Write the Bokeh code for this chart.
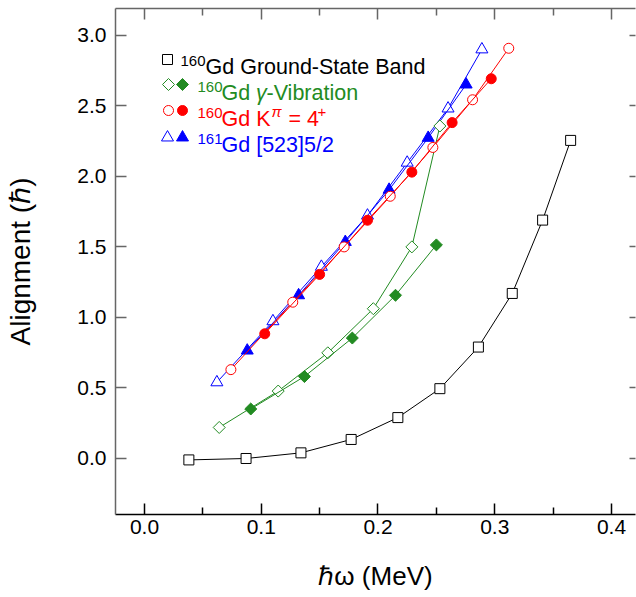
import numpy as np
from bokeh.plotting import figure
from bokeh.models import Range1d, FixedTicker, LinearAxis, Label, NumeralTickFormatter
from bokeh.embed import file_html
from bokeh.resources import INLINE

# ---------------- data (hbar*omega in MeV, alignment in hbar) ----------------
gsb_hw = [0.038, 0.087, 0.134, 0.177, 0.217, 0.253, 0.286, 0.315, 0.341, 0.365]
gsb_ix = [-0.01, 0.00, 0.04, 0.135, 0.29, 0.495, 0.79, 1.17, 1.69, 2.255]

gam_a_hw = [0.064, 0.1145, 0.157, 0.196, 0.229, 0.253]
gam_a_ix = [0.22, 0.478, 0.749, 1.062, 1.50, 2.357]
gam_b_hw = [0.091, 0.137, 0.178, 0.215, 0.250]
gam_b_ix = [0.351, 0.581, 0.854, 1.157, 1.514]

k4_a_hw = [0.074, 0.127, 0.171, 0.2105, 0.247, 0.281, 0.312]
k4_a_ix = [0.630, 1.108, 1.500, 1.859, 2.205, 2.543, 2.908]
k4_b_hw = [0.103, 0.150, 0.191, 0.229, 0.2635, 0.297]
k4_b_ix = [0.884, 1.305, 1.689, 2.030, 2.381, 2.692]

gd161_a_hw = [0.062, 0.110, 0.1515, 0.191, 0.225, 0.260, 0.289]
gd161_a_ix = [0.54, 0.973, 1.359, 1.722, 2.097, 2.481, 2.900]
gd161_b_hw = [0.088, 0.132, 0.172, 0.2095, 0.243, 0.2755]
gd161_b_ix = [0.765, 1.157, 1.535, 1.905, 2.273, 2.651]

x_major = [0.0, 0.1, 0.2, 0.3, 0.4]
x_minor = [0.05, 0.15, 0.25, 0.35]
y_major = [0.0, 0.5, 1.0, 1.5, 2.0, 2.5, 3.0]

# ---------------- styles ----------------
BLACK = "black"
GREEN = "#228B22"
RED = "#ff0000"
BLUE = "#0000ff"
GREY = "#666666"
FONT = "Liberation Sans"

p = figure(width=636, height=597,
           x_range=Range1d(-0.02484, 0.42056), y_range=Range1d(-0.397, 3.19),
           output_backend="svg", toolbar_location=None,
           min_border_left=115, min_border_right=1, min_border_top=8, min_border_bottom=83)
p.xgrid.visible = False
p.ygrid.visible = False
p.outline_line_color = None
p.background_fill_color = "white"
p.border_fill_color = "white"


def base_axis(ax, color):
    ax.axis_line_color = color
    ax.axis_line_width = 1.5
    ax.major_tick_line_color = color
    ax.minor_tick_line_color = color
    ax.major_tick_line_width = 1.5
    ax.minor_tick_line_width = 1.5
    ax.major_tick_out = 0
    ax.minor_tick_out = 0


xa = p.xaxis[0]
ya = p.yaxis[0]
base_axis(xa, "black")
base_axis(ya, GREY)
xa.ticker = FixedTicker(ticks=x_major, minor_ticks=x_minor)
ya.ticker = FixedTicker(ticks=y_major, minor_ticks=[])
for ax in (xa, ya):
    ax.major_tick_in = 11
    ax.minor_tick_in = 7
    ax.formatter = NumeralTickFormatter(format="0.0")
    ax.major_label_text_font = FONT
    ax.major_label_text_font_size = "21px"
    ax.major_label_text_color = "black"
    ax.axis_label_text_font = FONT
    ax.axis_label_text_font_style = "normal"
    ax.axis_label_text_color = "black"
xa.major_label_standoff = 5
ya.major_label_standoff = 9
xa.axis_label = "\u210f\u03c9 (MeV)"
xa.axis_label_text_font_size = "26px"
xa.axis_label_standoff = 24
ya.axis_label = "Alignment (\u210f)"
ya.axis_label_text_font_size = "28px"
ya.axis_label_standoff = 38

# mirror ticks (no labels): top long + short ticks, right ticks
top_long = LinearAxis(ticker=FixedTicker(ticks=[], minor_ticks=x_major))
base_axis(top_long, GREY)
top_long.minor_tick_in = 11
top_long.major_label_standoff = 0
p.add_layout(top_long, "above")
top_short = LinearAxis(ticker=FixedTicker(ticks=[], minor_ticks=x_minor))
base_axis(top_short, GREY)
top_short.axis_line_color = None
top_short.minor_tick_in = 7
top_short.major_label_standoff = 0
p.add_layout(top_short, "above")
right_ax = LinearAxis(ticker=FixedTicker(ticks=[], minor_ticks=y_major))
base_axis(right_ax, GREY)
right_ax.axis_line_color = None
right_ax.minor_tick_in = 6
right_ax.major_label_standoff = 0
p.add_layout(right_ax, "right")

LW = 1


def series(xs, ys, color, marker, size, filled, angle=0.0):
    p.line(xs, ys, line_color=color, line_width=LW)
    p.scatter(xs, ys, marker=marker, size=size, angle=angle,
              line_color=color, line_width=1,
              fill_color=color if filled else "white")


# ground-state band
series(gsb_hw, gsb_ix, BLACK, "square", 10, False)
# 161Gd (drawn beneath the K=4 band)
series(gd161_a_hw, gd161_a_ix, BLUE, "triangle", 12, False)
series(gd161_b_hw, gd161_b_ix, BLUE, "triangle", 12, True)
# gamma vibration
series(gam_a_hw, gam_a_ix, GREEN, "square", 8.5, False, np.pi / 4)
series(gam_b_hw, gam_b_ix, GREEN, "square", 8.5, True, np.pi / 4)
# K=4 band
series(k4_a_hw, k4_a_ix, RED, "circle", 10, False)
series(k4_b_hw, k4_b_ix, RED, "circle", 10, True)

# ---------------- legend (frame pixel space) ----------------
FRAME_LEFT, FRAME_BOTTOM = 115, 514   # page px of frame corner
p.extra_x_ranges = {"px": Range1d(0, 520)}
p.extra_y_ranges = {"px": Range1d(0, 506)}


def lx(px):
    return px - FRAME_LEFT


def ly(py):
    return FRAME_BOTTOM - py


leg_sym = [
    ("square", BLACK, False, 167, 59, 10, 0.0),
    ("square", GREEN, False, 168, 84, 8.5, np.pi / 4),
    ("square", GREEN, True, 182, 84, 8.5, np.pi / 4),
    ("circle", RED, False, 168, 110, 10, 0.0),
    ("circle", RED, True, 182, 110, 10, 0.0),
    ("triangle", BLUE, False, 167, 137, 12, 0.0),
    ("triangle", BLUE, True, 182, 137, 12, 0.0),
]
for mk, col, fl, px, py, sz, ang in leg_sym:
    p.scatter([lx(px)], [ly(py)], marker=mk, size=sz, angle=ang,
              line_color=col, line_width=1, fill_color=col if fl else "white",
              x_range_name="px", y_range_name="px")


def txt(s, px, py, col, size, style="normal"):
    p.add_layout(Label(x=lx(px), y=ly(py), x_units="screen", y_units="screen",
                       text=s, text_font=FONT, text_font_size=size,
                       text_font_style=style,
                       text_color=col, text_baseline="alphabetic", text_align="left"))


MAIN = "21.5px"
SUP = "15px"
txt("160", 180, 60, BLACK, SUP)
txt("Gd Ground-State Band", 205, 66, BLACK, MAIN)
txt("160", 197, 86, GREEN, SUP)
txt("Gd", 221, 92, GREEN, MAIN)
txt("\u03b3", 255.5, 92, GREEN, MAIN, "italic")
txt("-Vibration", 266, 92, GREEN, MAIN)
txt("160", 197, 112, RED, SUP)
txt("Gd K", 221, 118, RED, MAIN)
txt("\u03c0", 271, 111, RED, SUP, "italic")
txt("= 4", 288, 118, RED, MAIN)
txt("+", 317, 111, RED, SUP)
txt("161", 197, 138, BLUE, SUP)
txt("Gd [523]5/2", 221, 144, BLUE, MAIN)

open("out.html", "w").write(file_html(p, INLINE))
